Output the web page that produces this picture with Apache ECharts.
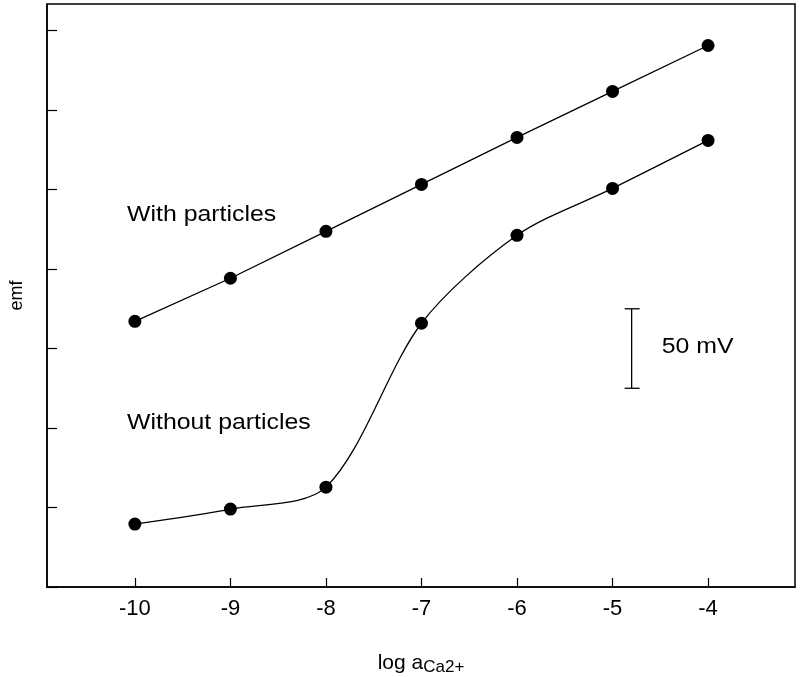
<!DOCTYPE html>
<html><head><meta charset="utf-8">
<script src="https://cdn.jsdelivr.net/npm/echarts@6/dist/echarts.min.js"></script>
<style>html,body{margin:0;padding:0;background:#fff}#c{width:800px;height:677px}</style>
</head><body><div id="c"></div>
<script>
var xValues = [-10, -9, -8, -7, -6, -5, -4];
var withParticles = [167.1, 194.2, 223.7, 253.2, 282.8, 311.7, 340.6];
var withoutParticles = [39.6, 49.0, 62.8, 165.9, 221.2, 250.7, 280.9];
var xTicks = [-10, -9, -8, -7, -6, -5, -4];
var yTicks = [0, 50, 100, 150, 200, 250, 300, 350];
var scaleBar = [[-4.8, 125, 175]];

var chart = echarts.init(document.getElementById('c'));
var font = 'Liberation Sans, Arial, sans-serif';
function pairs(xs, ys){ return xs.map(function(x,i){ return [x, ys[i]]; }); }
chart.setOption({
  animation: false,
  grid: {left: 47, top: 4, right: 5, bottom: 90, outerBoundsMode: 'none', containLabel: false,
         show: true, borderColor: '#000', borderWidth: 1.5, backgroundColor: 'transparent'},
  xAxis: {
    type: 'value', min: -10.92, max: -3.09,
    splitLine: {show: false},
    axisLine: {lineStyle: {color: '#000', width: 1.5}},
    axisTick: {inside: true, length: 9, customValues: xTicks, lineStyle: {color: '#000', width: 1.2}},
    axisLabel: {customValues: xTicks, color: '#000', fontFamily: font, fontSize: 22, margin: 11},
    name: 'log a{sub|Ca2+}', nameLocation: 'middle', nameGap: 63,
    nameTextStyle: {color: '#000', fontFamily: font, fontSize: 21,
      rich: {sub: {fontSize: 17, fontFamily: font, color: '#000', padding: [9, 0, 0, 0]}}}
  },
  yAxis: {
    type: 'value', min: 0, max: 366.7,
    splitLine: {show: false},
    axisLine: {lineStyle: {color: '#000', width: 1.5}},
    axisTick: {inside: true, length: 10, customValues: yTicks, lineStyle: {color: '#000', width: 1.2}},
    axisLabel: {show: false},
    name: 'emf', nameLocation: 'middle', nameGap: 21, nameRotate: 90,
    nameTextStyle: {color: '#000', fontFamily: font, fontSize: 18}
  },
  graphic: [
    {type: 'text', x: 127, y: 215, scaleX: 1.13, style: {text: 'With particles', x: 0, y: 0, verticalAlign: 'middle', font: '22px ' + font, fill: '#000'}},
    {type: 'text', x: 127, y: 423, scaleX: 1.13, style: {text: 'Without particles', x: 0, y: 0, verticalAlign: 'middle', font: '22px ' + font, fill: '#000'}}
  ],
  series: [
    {type: 'line', data: pairs(xValues, withParticles), symbol: 'circle', symbolSize: 13,
     itemStyle: {color: '#000'}, lineStyle: {color: '#000', width: 1.3}},
    {type: 'line', data: pairs(xValues, withoutParticles), smooth: 0.3, symbol: 'circle', symbolSize: 13,
     itemStyle: {color: '#000'}, lineStyle: {color: '#000', width: 1.3}},
    {type: 'custom', data: scaleBar, renderItem: function(params, api){
      var x = api.value(0), y0 = api.value(1), y1 = api.value(2);
      var p0 = api.coord([x, y0]), p1 = api.coord([x, y1]);
      var st = {stroke: '#000', lineWidth: 1.3};
      return {type: 'group', children: [
        {type: 'line', shape: {x1: p0[0], y1: p0[1], x2: p1[0], y2: p1[1]}, style: st},
        {type: 'line', shape: {x1: p0[0]-7, y1: p0[1], x2: p0[0]+8, y2: p0[1]}, style: st},
        {type: 'line', shape: {x1: p1[0]-7, y1: p1[1], x2: p1[0]+8, y2: p1[1]}, style: st},
        {type: 'text', x: p0[0]+30, y: (p0[1]+p1[1])/2 - 2, scaleX: 1.13,
         style: {text: '50 mV', x: 0, y: 0, font: '22px ' + font, fill: '#000', verticalAlign: 'middle'}}
      ]};
    }}
  ]
});
</script></body></html>
